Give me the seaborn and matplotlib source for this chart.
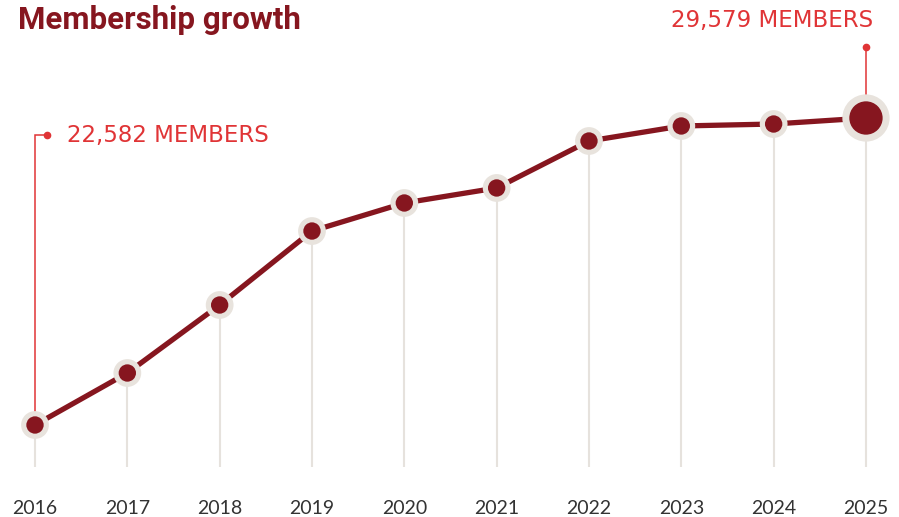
import matplotlib
matplotlib.use("Agg")
import matplotlib.pyplot as plt
import seaborn as sns
import pandas as pd

years = [2016, 2017, 2018, 2019, 2020, 2021, 2022, 2023, 2024, 2025]
members = [22582, 23767, 25317, 27003, 27642, 27984, 29055, 29397, 29442, 29579]
tick_labels = [str(y) for y in years]
title = "Membership growth"
first_label = "22,582 MEMBERS"
last_label = "29,579 MEMBERS"

DARK = "#86161f"
HALO = "#e8e3dd"
RED = "#e03436"
DROP = "#e6e2dd"

df = pd.DataFrame({"year": years, "members": members})

sns.set_theme(style="white")
plt.rcParams["font.family"] = ["Lato", "DejaVu Sans"]

fig = plt.figure(figsize=(8.99, 5.17), dpi=100)
ax = fig.add_axes([0, 50 / 517, 1, 467 / 517])

ppx = 92.33
ax.set_xlim(2016 - 35 / ppx, 2016 + (899 - 35) / ppx)
vpp = (29579 - 22582) / 307.0
ax.set_ylim(22582 - 42 * vpp, 22582 + 425 * vpp)

# drop lines
ax.vlines(df["year"], ax.get_ylim()[0], df["members"], color=DROP, lw=1.5, zorder=1)

# line
sns.lineplot(data=df, x="year", y="members", ax=ax, color=DARK, lw=3.8, zorder=2,
             solid_capstyle="round")

# markers
normal = df.iloc[:-1]
last = df.iloc[-1:]
sns.scatterplot(data=normal, x="year", y="members", ax=ax, s=20 ** 2, color=HALO,
                edgecolor="none", zorder=3, clip_on=False)
sns.scatterplot(data=normal, x="year", y="members", ax=ax, s=12.5 ** 2, color=DARK,
                edgecolor="none", zorder=4, clip_on=False)
sns.scatterplot(data=last, x="year", y="members", ax=ax, s=34 ** 2, color=HALO,
                edgecolor="none", zorder=3, clip_on=False)
sns.scatterplot(data=last, x="year", y="members", ax=ax, s=24 ** 2, color=DARK,
                edgecolor="none", zorder=4, clip_on=False)

# first annotation
x0, y0 = years[0], members[0]
ya = 22582 + 290 * vpp
xa = x0 + 12 / ppx
ax.plot([x0, x0, xa], [y0, ya, ya], color=RED, lw=1.1, zorder=1.5, solid_joinstyle="miter")
ax.plot([xa], [ya], "o", color=RED, ms=4.5, zorder=5)
ax.text(x0 + 32 / ppx, ya, first_label, color=RED, fontsize=16.5, va="center", ha="left",
        family=["DejaVu Sans"])

# last annotation
x1, y1 = years[-1], members[-1]
yb = 22582 + (425 - 47) * vpp
ax.plot([x1, x1], [y1, yb], color=RED, lw=1.1, zorder=1.5)
ax.plot([x1], [yb], "o", color=RED, ms=4.5, zorder=5)
ax.text(x1 + 7 / ppx, 22582 + (425 - 21) * vpp, last_label, color=RED, fontsize=16.5,
        va="center", ha="right", family=["DejaVu Sans"])

# ticks
ax.set_xticks(years)
ax.set_xticklabels(tick_labels, fontsize=14, color="#333333")
ax.tick_params(axis="x", length=0, pad=24)
ax.set_yticks([])
ax.set_xlabel("")
ax.set_ylabel("")
for s in ax.spines.values():
    s.set_visible(False)

fig.text(18 / 899, 1 - 20 / 517, title, fontsize=22.5, fontweight="bold", color=DARK,
         family=["Roboto", "DejaVu Sans"], va="center", ha="left")

fig.savefig("out.png", dpi=100)
